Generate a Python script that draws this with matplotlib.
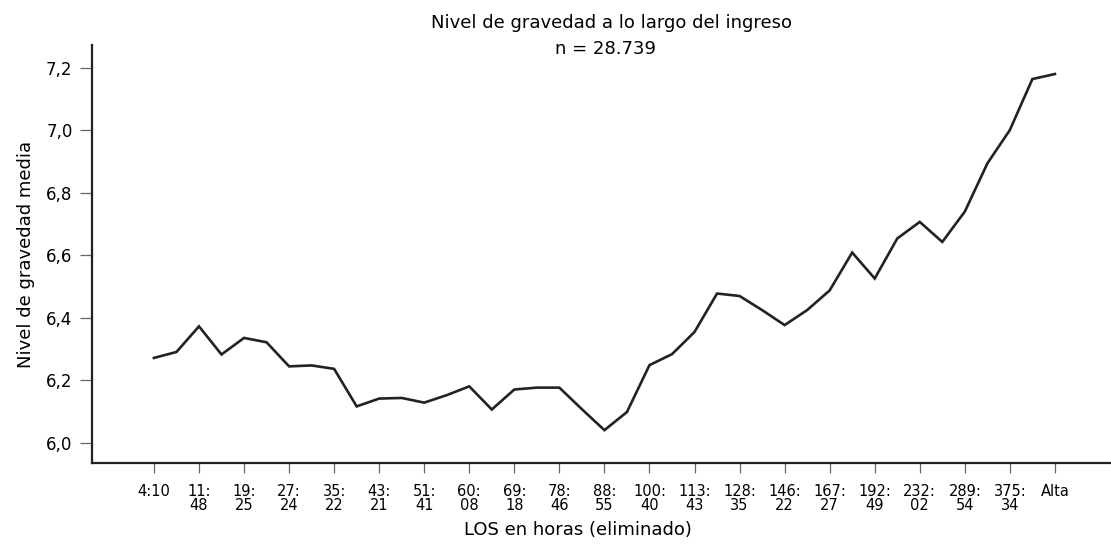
import matplotlib.pyplot as plt
import numpy as np

plt.rcParams['font.family'] = ['DejaVu Sans']

# etiquetas del eje x (una cada dos puntos)
x_labels = ['4:10', '11:\n48', '19:\n25', '27:\n24', '35:\n22', '43:\n21', '51:\n41',
            '60:\n08', '69:\n18', '78:\n46', '88:\n55', '100:\n40', '113:\n43',
            '128:\n35', '146:\n22', '167:\n27', '192:\n49', '232:\n02', '289:\n54',
            '375:\n34', 'Alta']

# nivel de gravedad media (41 puntos, dos por intervalo)
gravedad = [6.272, 6.291, 6.373, 6.283, 6.336, 6.322, 6.245, 6.248, 6.237, 6.117,
            6.142, 6.144, 6.129, 6.153, 6.181, 6.107, 6.171, 6.177, 6.177, 6.108,
            6.041, 6.099, 6.249, 6.284, 6.355, 6.478, 6.470, 6.425, 6.377, 6.425,
            6.488, 6.609, 6.526, 6.654, 6.707, 6.643, 6.740, 6.894, 7.001, 7.164,
            7.180]

y_ticks = [6.0, 6.2, 6.4, 6.6, 6.8, 7.0, 7.2]

x = np.arange(len(gravedad))
tick_pos = np.arange(0, len(gravedad), 2)

fig = plt.figure(figsize=(11.11, 5.45), dpi=100)
ax = fig.add_axes([0.0828, 0.1505, 0.9172, 0.767])

ax.plot(x, gravedad, color='#222222', linewidth=1.9, solid_joinstyle='miter')

ax.set_xlim(-2.75, 42.49)
ax.set_ylim(5.936, 7.273)

ax.set_xticks(tick_pos)
ax.set_xticklabels(x_labels, fontsize=10.5, linespacing=0.95)
ax.set_yticks(y_ticks)
ax.set_yticklabels([f"{v:.1f}".replace('.', ',') for v in y_ticks], fontsize=12)

ax.tick_params(axis='x', length=7, width=0.9, color='#666666', pad=8)
ax.tick_params(axis='y', length=9, width=0.9, color='#666666', pad=5)

for s in ['top', 'right']:
    ax.spines[s].set_visible(False)
for s in ['left', 'bottom']:
    ax.spines[s].set_linewidth(1.6)
    ax.spines[s].set_color('#222222')

ax.set_ylabel('Nivel de gravedad media', fontsize=13, labelpad=8)
fig.text(0.520, 0.028, 'LOS en horas (eliminado)', fontsize=13, ha='center', va='center')

fig.text(0.550, 0.958, 'Nivel de gravedad a lo largo del ingreso', fontsize=13,
         ha='center', va='center')
fig.text(0.545, 0.910, 'n = 28.739', fontsize=13, ha='center', va='center')

plt.savefig('out.png', dpi=100)
